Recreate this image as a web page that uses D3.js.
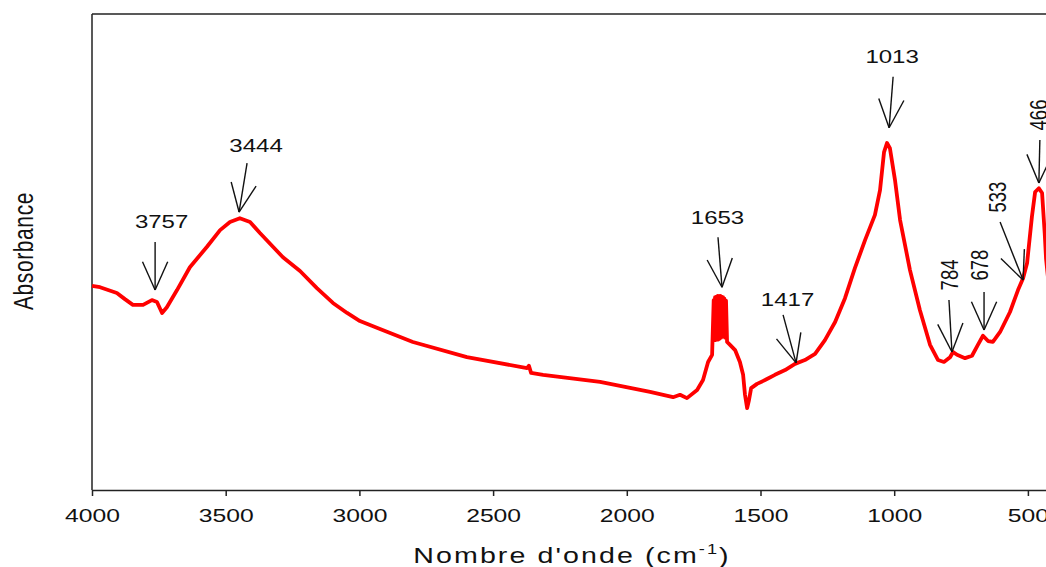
<!DOCTYPE html>
<html>
<head>
<meta charset="utf-8">
<script src="https://cdn.jsdelivr.net/npm/d3@7"></script>
<style>
  body { margin: 0; background: #fff; }
  svg { display: block; font-family: Arial, "Liberation Sans", sans-serif; }
</style>
</head>
<body>
<div id="chart"></div>
<script>
// spectrum (wavenumber cm-1, absorbance in arbitrary units)
const wavenumbers = [
  4000, 3970, 3907, 3877, 3847, 3809, 3776, 3757, 3738, 3720, 3682, 3634, 3570, 3521, 3484,
  3447, 3409, 3372, 3286, 3222, 3159, 3099, 3046, 2998, 2923, 2800, 2598, 2373, 2366, 2358,
  2313, 2100, 1913, 1827, 1801, 1775, 1737, 1715, 1696, 1681, 1675, 1673, 1670, 1668, 1665,
  1663, 1660, 1658, 1655, 1653, 1650, 1648, 1645, 1643, 1640, 1638, 1635, 1632, 1629, 1625,
  1614, 1595, 1577, 1565, 1558, 1550, 1543, 1535, 1513, 1483,
  1446, 1408, 1371, 1334, 1296, 1259, 1221, 1184, 1147, 1109, 1072, 1053, 1038, 1027, 1016,
  997, 978, 941, 904, 866, 836, 814, 791, 780, 765, 735, 709, 687, 668, 649,
  631, 604, 567, 537, 518, 503, 485, 473, 459, 447, 437, 432, 420
];
const absorbance = [
  0.429, 0.426, 0.414, 0.401, 0.389, 0.389, 0.399, 0.395, 0.372, 0.384, 0.420, 0.468, 0.511, 0.546, 0.563,
  0.571, 0.563, 0.540, 0.489, 0.460, 0.424, 0.393, 0.372, 0.355, 0.338, 0.311, 0.279, 0.256, 0.261, 0.246,
  0.242, 0.227, 0.206, 0.195, 0.200, 0.193, 0.210, 0.231, 0.269, 0.284, 0.399, 0.320, 0.405, 0.315, 0.406,
  0.318, 0.408, 0.316, 0.408, 0.318, 0.408, 0.320, 0.406, 0.322, 0.405, 0.326, 0.402, 0.320, 0.398, 0.311,
  0.305, 0.294, 0.269, 0.242, 0.200, 0.172, 0.189, 0.214, 0.223, 0.231,
  0.242, 0.252, 0.265, 0.273, 0.286, 0.315, 0.353, 0.403, 0.466, 0.525, 0.578, 0.630, 0.710, 0.729, 0.718,
  0.651, 0.567, 0.462, 0.378, 0.305, 0.273, 0.269, 0.279, 0.290, 0.284, 0.277, 0.282, 0.305, 0.324, 0.313,
  0.311, 0.332, 0.374, 0.420, 0.445, 0.477, 0.574, 0.626, 0.634, 0.624, 0.538, 0.485, 0.420
];

// annotated bands: label and the point the arrow tip sits on
const peakLabels = ["3757", "3444", "1653", "1417", "1013", "784", "678", "533", "466"];
const peakTipWavenumbers = [3764, 3450, 1644, 1367, 1019, 784, 664, 518, 459];
const peakTipAbsorbance = [0.420, 0.584, 0.426, 0.267, 0.761, 0.290, 0.336, 0.441, 0.645];

const xTicks = [4000, 3500, 3000, 2500, 2000, 1500, 1000, 500];

// arrow / label placement relative to the tip (px)
const peakLayout = [
  { shaft: [0, -48], label: [6.5, -62], vertical: false },
  { shaft: [8, -49], label: [17, -60], vertical: false },
  { shaft: [-4, -50], label: [-4.5, -63], vertical: false },
  { shaft: [-13, -48], label: [-8.5, -57], vertical: false },
  { shaft: [4, -51], label: [3, -65], vertical: false },
  { shaft: [-3, -52], label: [-2, -77], vertical: true },
  { shaft: [0, -38], label: [-4.5, -65], vertical: true },
  { shaft: [-23, -58], label: [-26, -83], vertical: true },
  { shaft: [1, -43], label: [0, -68], vertical: true }
];

const W = 1046, H = 567;
const margin = { top: 14, left: 92, bottom: 77 };
const plotH = H - margin.top - margin.bottom;
const stretch = 1.3; // horizontal text stretch seen in the picture

const svg = d3.select("#chart").append("svg")
  .attr("width", W)
  .attr("height", H);

svg.append("rect").attr("width", W).attr("height", H).attr("fill", "#fff");

const x = d3.scaleLinear()
  .domain([4000, 400])
  .range([margin.left, margin.left + 3600 / 500 * 133.7]);

const y = d3.scaleLinear()
  .domain([0, 1])
  .range([margin.top + plotH, margin.top]);

// frame: top and left lines
svg.append("line")
  .attr("x1", margin.left).attr("x2", W)
  .attr("y1", margin.top).attr("y2", margin.top)
  .attr("stroke", "#222").attr("stroke-width", 1.5);
svg.append("line")
  .attr("x1", margin.left).attr("x2", margin.left)
  .attr("y1", margin.top).attr("y2", margin.top + plotH)
  .attr("stroke", "#222").attr("stroke-width", 1.5);

// x axis
const xAxis = d3.axisBottom(x)
  .tickValues(xTicks)
  .tickSizeInner(6)
  .tickSizeOuter(0)
  .tickPadding(12.5)
  .tickFormat(d3.format("d"));

const gx = svg.append("g")
  .attr("transform", `translate(0,${margin.top + plotH})`)
  .call(xAxis);

gx.select(".domain").attr("stroke", "#222").attr("stroke-width", 1.5);
gx.selectAll(".tick line").attr("stroke", "#222").attr("stroke-width", 1.5);
gx.selectAll(".tick text")
  .attr("font-size", 19)
  .attr("font-family", "Arial, 'Liberation Sans', sans-serif")
  .attr("fill", "#111")
  .attr("transform", `scale(${stretch},1)`);

// axis titles
const xTitle = svg.append("text")
  .attr("transform", `translate(572,563) scale(${stretch},1)`)
  .attr("text-anchor", "middle")
  .attr("font-size", 22)
  .attr("letter-spacing", 1.6)
  .attr("fill", "#111");
xTitle.append("tspan").text("Nombre d'onde (cm");
xTitle.append("tspan").attr("font-size", 14).attr("dy", -9).text("-1");
xTitle.append("tspan").attr("dy", 9).text(")");

svg.append("text")
  .attr("transform", `translate(33,251) scale(${stretch},1) rotate(-90)`)
  .attr("text-anchor", "middle")
  .attr("font-size", 21)
  .attr("letter-spacing", 0.6)
  .attr("fill", "#111")
  .text("Absorbance");

// spectrum
const spectrum = wavenumbers.map((w, i) => ({ w, a: absorbance[i] }));

const line = d3.line()
  .x(d => x(d.w))
  .y(d => y(d.a));

svg.append("path")
  .datum(spectrum)
  .attr("fill", "none")
  .attr("stroke", "#ff0000")
  .attr("stroke-width", 3.8)
  .attr("stroke-linejoin", "round")
  .attr("d", line);

// arrows + labels
const headLen = 31, headAngle = 24 * Math.PI / 180;

peakLabels.forEach((label, i) => {
  const tx = x(peakTipWavenumbers[i]);
  const ty = y(peakTipAbsorbance[i]);
  const lay = peakLayout[i];
  const g = svg.append("g").attr("stroke", "#111").attr("stroke-width", 1.4);

  g.append("line")
    .attr("x1", tx).attr("y1", ty)
    .attr("x2", tx + lay.shaft[0]).attr("y2", ty + lay.shaft[1]);

  const ang = Math.atan2(lay.shaft[1], lay.shaft[0]);
  [-headAngle, headAngle].forEach(a => {
    g.append("line")
      .attr("x1", tx).attr("y1", ty)
      .attr("x2", tx + headLen * Math.cos(ang + a))
      .attr("y2", ty + headLen * Math.sin(ang + a));
  });

  const lx = tx + lay.label[0], ly = ty + lay.label[1];
  const t = svg.append("text")
    .attr("text-anchor", "middle")
    .attr("font-size", 18.5)
    .attr("fill", "#111")
    .text(label);
  if (lay.vertical) {
    t.attr("dy", "0.35em")
      .attr("transform", `translate(${lx},${ly}) scale(${stretch},1) rotate(-90)`);
  } else {
    t.attr("transform", `translate(${lx},${ly}) scale(${stretch},1)`);
  }
});
</script>
</body>
</html>
